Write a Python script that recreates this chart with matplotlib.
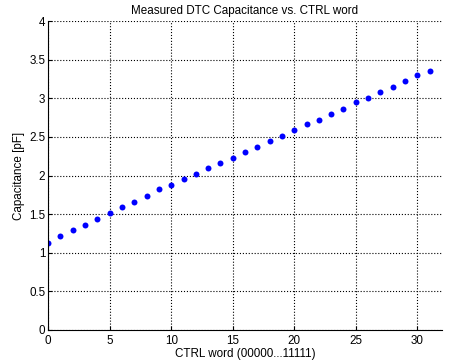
import numpy as np
import matplotlib.pyplot as plt

plt.rcParams['font.family'] = ['Liberation Sans', 'DejaVu Sans']

ctrl_word = np.arange(32)
capacitance = [1.13, 1.22, 1.29, 1.36, 1.44, 1.52, 1.59, 1.66, 1.74, 1.82,
               1.88, 1.96, 2.02, 2.10, 2.16, 2.23, 2.30, 2.375, 2.45, 2.51,
               2.585, 2.67, 2.72, 2.80, 2.86, 2.95, 3.01, 3.085, 3.14, 3.22,
               3.30, 3.35]

xticks = [0, 5, 10, 15, 20, 25, 30]
yticks = [0, 0.5, 1, 1.5, 2, 2.5, 3, 3.5, 4]
ytick_labels = ['0', '0.5', '1', '1.5', '2', '2.5', '3', '3.5', '4']

fig = plt.figure(figsize=(4.5, 3.63), dpi=100)
ax = fig.add_axes([0.107, 0.091, 0.875, 0.851])

ax.plot(ctrl_word, capacitance, 'o', color='blue', markersize=4.3, markeredgewidth=0)

ax.set_xlim(0, 32)
ax.set_ylim(0, 4)
ax.set_xticks(xticks)
ax.set_yticks(yticks)
ax.set_yticklabels(ytick_labels)
ax.grid(True, linestyle=':', color='black', linewidth=0.8)
ax.set_axisbelow(True)

ax.spines['top'].set_visible(False)
ax.spines['right'].set_visible(False)
ax.spines['left'].set_linewidth(0.8)
ax.spines['bottom'].set_linewidth(0.8)
ax.tick_params(direction='in', length=3, labelsize=8.4, pad=2)
ax.tick_params(axis='x', pad=3.5)

ax.set_title('Measured DTC Capacitance vs. CTRL word', fontsize=8.4, pad=5)
ax.set_xlabel('CTRL word (00000...11111)', fontsize=8.4, labelpad=1)
ax.set_ylabel('Capacitance [pF]', fontsize=8.4, labelpad=3)

fig.savefig('out.png', dpi=100)
